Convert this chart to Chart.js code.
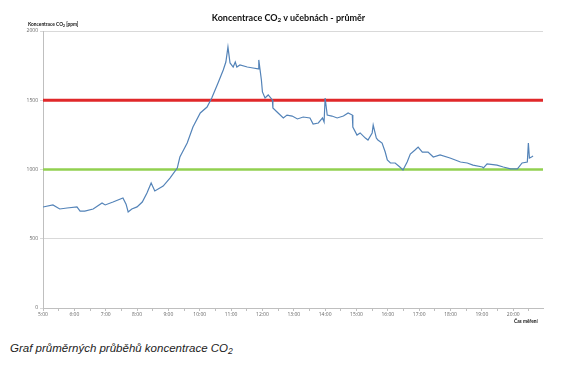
<!DOCTYPE html>
<html>
<head>
<meta charset="utf-8">
<script src="https://cdn.jsdelivr.net/npm/chart.js@4"></script>
<style>
  html, body { margin: 0; padding: 0; background: #fff; }
  #wrap { position: relative; width: 577px; height: 388px; }
  #box { position: absolute; left: 0; top: 0; width: 577px; height: 330px; }
  .lbl { position: absolute; font-family: 'Lato', sans-serif; color: #111; white-space: nowrap; }
  .lbl sub { font-size: 70%; vertical-align: -1px; }
  #title { left: 0; width: 577px; top: 12px; text-align: center; font-size: 9px; font-weight: bold; }
  #ytitle { left: 28px; top: 21px; font-size: 4.8px; font-weight: bold; }
  #xtitle { left: 514px; top: 318px; font-size: 4.8px; font-weight: bold; }
  #caption { left: 10px; top: 342px; font-family: 'Liberation Sans', Arial, sans-serif; font-style: italic; font-size: 11.5px; color: #222; }
  #caption sub { font-size: 75%; vertical-align: -2px; }
</style>
</head>
<body>
<div id="wrap">
  <div id="box"><canvas id="c"></canvas></div>
  <div class="lbl" id="title">Koncentrace CO<sub>2</sub> v učebnách - průměr</div>
  <div class="lbl" id="ytitle">Koncentrace CO<sub>2</sub> [ppm]</div>
  <div class="lbl" id="xtitle">Čas měření</div>
  <div class="lbl" id="caption">Graf průměrných průběhů koncentrace CO<sub>2</sub></div>
</div>
<script>
  // čas měření (h:mm) a průměrná koncentrace CO2 [ppm]
  var times = [
    '5:00', '5:19', '5:32', '5:46', '6:05', '6:11', '6:20', '6:36', '6:53', '6:59',
    '7:14', '7:33', '7:39', '7:43', '7:50', '8:00', '8:10', '8:19', '8:27', '8:34',
    '8:50', '9:03', '9:17', '9:22', '9:26', '9:36', '9:47', '10:01', '10:14', '10:23',
    '10:35', '10:45', '10:50', '10:54', '10:58', '11:04', '11:08', '11:11', '11:17', '11:31',
    '11:42', '11:52', '11:53', '11:58', '12:00', '12:05', '12:11', '12:19', '12:20', '12:28',
    '12:40', '12:47', '12:57', '13:07', '13:18', '13:31', '13:37', '13:47', '13:55', '13:58',
    '14:00', '14:04', '14:13', '14:23', '14:35', '14:44', '14:52', '14:53', '15:01', '15:07',
    '15:17', '15:22', '15:30', '15:32', '15:38', '15:41', '15:49', '15:55', '15:59', '16:05',
    '16:14', '16:23', '16:29', '16:37', '16:43', '16:52', '16:58', '17:06', '17:17', '17:27',
    '17:40', '17:59', '18:19', '18:32', '18:43', '19:01', '19:03', '19:10', '19:29', '19:41',
    '19:55', '20:08', '20:17', '20:27', '20:29', '20:31', '20:35', '20:38'
  ];
  var co2 = [
    729, 744, 715, 722, 730, 700, 700, 715, 758, 744,
    765, 794, 750, 693, 715, 730, 765, 830, 902, 845,
    880, 938, 1010, 1090, 1119, 1191, 1307, 1408, 1451, 1516,
    1624, 1718, 1776, 1884, 1769, 1740, 1776, 1740, 1755, 1740,
    1733, 1726, 1791, 1646, 1560, 1516, 1538, 1502, 1444, 1415,
    1372, 1393, 1386, 1365, 1379, 1372, 1328, 1336, 1372, 1343,
    1516, 1393, 1386, 1372, 1386, 1408, 1393, 1307, 1249, 1264,
    1227, 1213, 1264, 1321, 1227, 1213, 1191, 1126, 1069, 1047,
    1047, 1018, 996, 1054, 1112, 1141, 1162, 1126, 1126, 1090,
    1105, 1083, 1054, 1047, 1032, 1018, 1011, 1040, 1032, 1018,
    1004, 1004, 1047, 1054, 1191, 1083, 1090, 1097
  ];
  var limitHigh = 1500;   // červená hranice
  var limitLow = 1000;    // zelená hranice
  var yTicks = [0, 500, 1000, 1500, 2000];
  var xStart = 5, xEnd = 20.95;

  function toHours(t) {
    var p = t.split(':');
    return parseInt(p[0], 10) + parseInt(p[1], 10) / 60;
  }

  var points = times.map(function (t, i) { return { x: toHours(t), y: co2[i] }; });

  new Chart(document.getElementById('c'), {
    type: 'line',
    data: {
      datasets: [
        {
          label: 'CO2',
          data: points,
          borderColor: '#5383b8',
          borderWidth: 1.2,
          pointRadius: 0,
          tension: 0,
          order: 0
        },
        {
          label: '1500',
          data: [{ x: xStart, y: limitHigh }, { x: xEnd, y: limitHigh }],
          borderColor: '#e0282a',
          borderWidth: 3,
          pointRadius: 0,
          order: 1
        },
        {
          label: '1000',
          data: [{ x: xStart, y: limitLow }, { x: xEnd, y: limitLow }],
          borderColor: '#92d050',
          borderWidth: 2.5,
          pointRadius: 0,
          order: 1
        }
      ]
    },
    options: {
      responsive: true,
      maintainAspectRatio: false,
      animation: false,
      layout: { padding: { left: 0, right: 34, top: 31, bottom: 0 } },
      plugins: { legend: { display: false }, tooltip: { enabled: false } },
      scales: {
        x: {
          type: 'linear',
          min: xStart,
          max: xEnd,
          afterFit: function (s) { s.height = 22; },
          afterBuildTicks: function (s) {
            var t = [];
            for (var v = 5; v <= 20.5; v += 0.5) t.push({ value: v });
            s.ticks = t;
          },
          grid: { drawOnChartArea: false, color: '#bfbfbf', tickLength: 3 },
          border: { color: '#bfbfbf' },
          ticks: {
            autoSkip: false,
            maxRotation: 0,
            padding: 1,
            color: '#666',
            font: { family: 'Open Sans', size: 5 },
            callback: function (v) { return v % 1 === 0 ? v + ':00' : ''; }
          }
        },
        y: {
          min: 0,
          max: 2000,
          afterFit: function (s) { s.width = 43; },
          afterBuildTicks: function (s) {
            s.ticks = yTicks.map(function (v) { return { value: v }; });
          },
          grid: { color: '#d9d9d9', tickLength: 3 },
          border: { color: '#bfbfbf' },
          ticks: {
            padding: 2,
            color: '#666',
            font: { family: 'Open Sans', size: 5 },
            callback: function (v) { return String(v); }
          }
        }
      }
    }
  });
</script>
</body>
</html>
